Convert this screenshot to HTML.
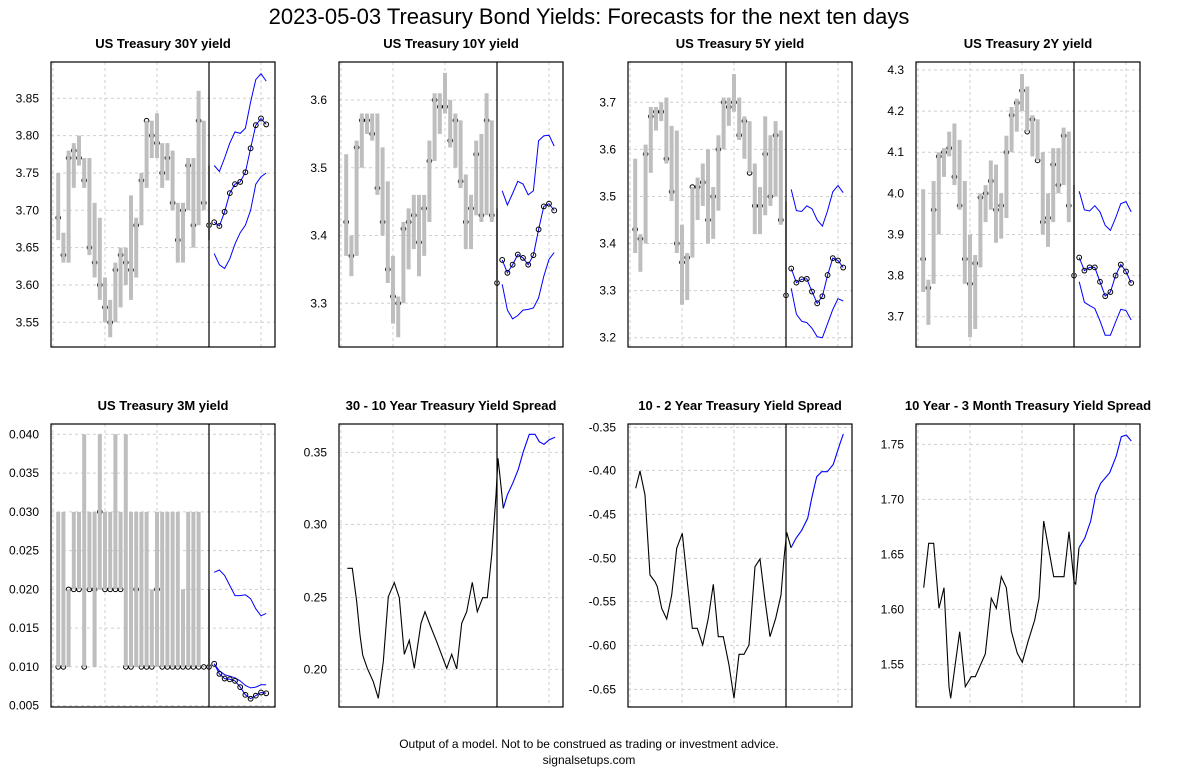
<!DOCTYPE html>
<html><head><meta charset="utf-8"><style>
html,body{margin:0;padding:0;background:#fff;}
svg{display:block;font-family:"Liberation Sans",Arial,sans-serif;}
</style></head><body>
<svg id="s" width="1178" height="772" viewBox="0 0 1178 772" xmlns="http://www.w3.org/2000/svg">
<rect width="1178" height="772" fill="#fff"/>
<text x="589" y="24" text-anchor="middle" font-size="22">2023-05-03 Treasury Bond Yields: Forecasts for the next ten days</text>
<text x="589" y="748" text-anchor="middle" font-size="12">Output of a model. Not to be construed as trading or investment advice.</text>
<text x="589" y="764" text-anchor="middle" font-size="12">signalsetups.com</text>
</svg>
<script>
var S=document.getElementById('s'),NS='http://www.w3.org/2000/svg';
function el(t,a,txt){var e=document.createElementNS(NS,t);for(var k in a)e.setAttribute(k,a[k]);if(txt!=null)e.textContent=txt;S.appendChild(e);return e;}
var lefts=[51,339,628,916];
function frame(L,T,B,title,ticks,Y,dec){
  el('text',{x:L+112,y:T-14,'text-anchor':'middle','font-size':13,'font-weight':'bold'},title);
  for(var k=0;k<5;k++){var gx=L+2+52*k;el('line',{x1:gx,y1:T,x2:gx,y2:B,stroke:'#cfcfcf','stroke-dasharray':'3,3'});}
  ticks.forEach(function(v){var y=Y(v);el('line',{x1:L,y1:y,x2:L+224,y2:y,stroke:'#cfcfcf','stroke-dasharray':'3,3'});
    el('text',{x:L-12,y:y+4,'text-anchor':'end','font-size':12},v.toFixed(dec));});
}
function finish(L,T,B){
  el('line',{x1:L+158,y1:T,x2:L+158,y2:B,stroke:'#000','stroke-width':1.2});
  el('rect',{x:L,y:T,width:224,height:B-T,fill:'none',stroke:'#000','stroke-width':1.2});
}
function lin(v1,p1,v2,p2){return function(v){return p1+(v-v1)*(p2-p1)/(v2-v1);};}
function X(L,i){return L+2+5.2*i;}
function pl(pts,c,w){el('polyline',{points:pts.map(function(p){return p[0].toFixed(1)+','+p[1].toFixed(1)}).join(' '),fill:'none',stroke:c,'stroke-width':w||1});}
function yieldPanel(p){
  var L=lefts[p.c],T=p.r?424:62,B=p.r?707:347,Y=lin(p.a[0],p.a[1],p.b[0],p.b[1]);
  frame(L,T,B,p.title,p.ticks,Y,p.dec);
  p.h.forEach(function(d,j){var x=X(L,j+1);
    el('circle',{cx:x,cy:Y(d[2]),r:2.3,fill:'none',stroke:'#000','stroke-width':1});
    var w=j==29?2:4;
    el('line',{x1:x,y1:Y(d[0]),x2:x,y2:Y(d[1])+0.01,stroke:'#bebebe','stroke-width':w});
  });
  var m=function(a){return a.map(function(v,k){return [X(L,31+k),Y(v)];});};
  pl(m(p.u),'#0000ff');pl(m(p.lo),'#0000ff');var mm=m(p.m);pl(mm,'#0000ff');
  mm.forEach(function(q){el('circle',{cx:q[0],cy:q[1],r:2.4,fill:'none',stroke:'#000','stroke-width':1});});
  finish(L,T,B);
}
yieldPanel({c:0,r:0,title:'US Treasury 30Y yield',a:[3.85,98.3],b:[3.55,322.3],ticks:[3.55,3.6,3.65,3.7,3.75,3.8,3.85],dec:2,
h:[[3.75,3.66,3.69],[3.67,3.63,3.64],[3.78,3.63,3.77],[3.79,3.73,3.78],[3.80,3.76,3.77],[3.77,3.73,3.74],[3.77,3.64,3.65],[3.71,3.61,3.63],[3.69,3.58,3.60],[3.61,3.55,3.57],[3.58,3.53,3.55],[3.63,3.55,3.62],[3.65,3.57,3.64],[3.65,3.60,3.63],[3.72,3.58,3.62],[3.69,3.61,3.68],[3.75,3.68,3.74],[3.82,3.73,3.82],[3.82,3.77,3.80],[3.83,3.77,3.79],[3.79,3.73,3.75],[3.79,3.74,3.77],[3.78,3.70,3.71],[3.71,3.63,3.66],[3.71,3.63,3.70],[3.77,3.70,3.76],[3.77,3.65,3.68],[3.86,3.68,3.82],[3.82,3.70,3.71],[3.76,3.66,3.68]],
m:[3.684,3.679,3.698,3.723,3.735,3.738,3.751,3.783,3.814,3.823,3.815],
u:[3.76,3.752,3.77,3.79,3.805,3.803,3.81,3.845,3.875,3.883,3.873],
lo:[3.642,3.627,3.622,3.635,3.655,3.67,3.68,3.70,3.735,3.745,3.75]});
yieldPanel({c:1,r:0,title:'US Treasury 10Y yield',a:[3.6,100],b:[3.3,303.3],ticks:[3.3,3.4,3.5,3.6],dec:1,
h:[[3.52,3.37,3.42],[3.40,3.34,3.37],[3.54,3.37,3.53],[3.58,3.50,3.57],[3.58,3.55,3.57],[3.58,3.54,3.55],[3.58,3.46,3.47],[3.53,3.40,3.42],[3.48,3.33,3.35],[3.37,3.27,3.31],[3.31,3.25,3.30],[3.42,3.30,3.41],[3.44,3.35,3.42],[3.46,3.38,3.43],[3.46,3.34,3.39],[3.46,3.37,3.44],[3.54,3.42,3.51],[3.61,3.51,3.60],[3.61,3.55,3.59],[3.64,3.58,3.59],[3.60,3.53,3.54],[3.58,3.50,3.57],[3.57,3.47,3.48],[3.49,3.38,3.42],[3.46,3.38,3.44],[3.54,3.43,3.52],[3.55,3.42,3.43],[3.61,3.43,3.57],[3.57,3.42,3.43],[3.44,3.33,3.33]],
m:[3.364,3.345,3.357,3.372,3.367,3.357,3.371,3.409,3.443,3.447,3.437],
u:[3.466,3.445,3.462,3.48,3.476,3.46,3.466,3.54,3.547,3.548,3.532],
lo:[3.328,3.29,3.277,3.282,3.29,3.291,3.293,3.308,3.34,3.365,3.375]});
yieldPanel({c:2,r:0,title:'US Treasury 5Y yield',a:[3.7,102.3],b:[3.2,337.7],ticks:[3.2,3.3,3.4,3.5,3.6,3.7],dec:1,
h:[[3.58,3.38,3.43],[3.42,3.34,3.41],[3.61,3.40,3.59],[3.69,3.55,3.67],[3.69,3.64,3.68],[3.70,3.66,3.68],[3.71,3.57,3.58],[3.65,3.49,3.51],[3.64,3.38,3.40],[3.44,3.27,3.36],[3.38,3.28,3.37],[3.52,3.37,3.52],[3.54,3.45,3.52],[3.57,3.48,3.53],[3.60,3.40,3.45],[3.52,3.41,3.50],[3.63,3.47,3.60],[3.71,3.60,3.70],[3.71,3.65,3.69],[3.76,3.68,3.70],[3.71,3.62,3.63],[3.67,3.58,3.66],[3.66,3.55,3.55],[3.57,3.42,3.48],[3.52,3.42,3.48],[3.67,3.46,3.59],[3.63,3.48,3.50],[3.66,3.50,3.63],[3.64,3.44,3.45],[3.49,3.29,3.29]],
m:[3.347,3.317,3.324,3.325,3.298,3.273,3.288,3.333,3.369,3.364,3.349],
u:[3.515,3.47,3.468,3.48,3.474,3.45,3.437,3.47,3.51,3.523,3.508],
lo:[3.305,3.25,3.235,3.232,3.22,3.202,3.2,3.23,3.26,3.283,3.278]});
yieldPanel({c:3,r:0,title:'US Treasury 2Y yield',a:[4.3,70],b:[3.7,316.7],ticks:[3.7,3.8,3.9,4.0,4.1,4.2,4.3],dec:1,
h:[[4.01,3.76,3.84],[3.79,3.68,3.77],[4.03,3.78,3.96],[4.10,3.90,4.09],[4.11,4.04,4.10],[4.15,4.09,4.11],[4.17,4.02,4.04],[4.13,3.96,3.97],[4.03,3.78,3.84],[3.90,3.65,3.78],[3.85,3.67,3.83],[4.00,3.82,3.99],[4.02,3.93,4.00],[4.08,3.96,4.03],[4.07,3.88,3.96],[4.00,3.89,3.97],[4.14,3.94,4.10],[4.21,4.10,4.19],[4.23,4.15,4.22],[4.29,4.20,4.25],[4.26,4.15,4.15],[4.19,4.09,4.18],[4.18,4.08,4.08],[4.10,3.90,3.93],[4.00,3.87,3.94],[4.11,3.93,4.07],[4.11,4.00,4.02],[4.16,4.02,4.14],[4.15,3.93,3.97],[4.02,3.80,3.80]],
m:[3.844,3.812,3.82,3.82,3.785,3.75,3.76,3.80,3.827,3.81,3.782],
u:[4.005,3.96,3.957,3.97,3.955,3.922,3.91,3.94,3.975,3.98,3.955],
lo:[3.785,3.735,3.727,3.72,3.69,3.655,3.655,3.687,3.718,3.715,3.692]});
yieldPanel({c:0,r:1,title:'US Treasury 3M yield',a:[0.040,434.3],b:[0.005,705.7],ticks:[0.005,0.01,0.015,0.02,0.025,0.03,0.035,0.04],dec:3,
h:[[.03,.01,.01],[.03,.01,.01],[.02,.01,.02],[.03,.02,.02],[.03,.02,.02],[.04,.01,.01],[.03,.02,.02],[.03,.01,.02],[.04,.02,.03],[.03,.02,.02],[.03,.02,.02],[.04,.02,.02],[.03,.02,.02],[.04,.01,.01],[.03,.01,.01],[.03,.01,.02],[.03,.01,.01],[.03,.01,.01],[.02,.01,.01],[.03,.01,.02],[.03,.01,.01],[.03,.01,.01],[.03,.01,.01],[.03,.01,.01],[.02,.01,.01],[.03,.01,.01],[.03,.01,.01],[.03,.01,.01],[.0101,.01,.01],[.02,.01,.01]],
m:[.0104,.0091,.0085,.0084,.0082,.0074,.0064,.0059,.0063,.0067,.0066],
u:[.0222,.0225,.0218,.0205,.0192,.0192,.0193,.0188,.0175,.0166,.0169],
lo:[.0104,.0095,.0090,.0088,.0086,.0082,.0076,.0073,.0074,.0077,.0077]});
function spread(c,title,ox,tk,dec,blk,blu){
  var L=lefts[c],T=424,B=707;var Y=function(v){return 415+(tk[0][1]+(v-tk[0][0])*(tk[1][1]-tk[0][1])/(tk[1][0]-tk[0][0]))/3;};
  frame(L,T,B,title,tk.map(function(t){return t[0];}),function(v){for(var i=0;i<tk.length;i++)if(Math.abs(tk[i][0]-v)<1e-9)return 415+tk[i][1]/3;},dec);
  var f=function(a){return a.map(function(q){return [ox+q[0]/3,415+q[1]/3];});};
  pl(f(blk),'#000',1.1);pl(f(blu),'#0000ff',1.1);finish(L,T,B);
}
spread(1,'30 - 10 Year Treasury Yield Spread',290,[[0.20,763],[0.25,548],[0.30,328],[0.35,112]],2,
[[172,460],[187,460],[200,560],[210,660],[218,720],[232,760],[250,800],[265,850],[280,740],[295,545],[313,503],[328,548],[343,718],[358,676],[373,760],[393,625],[405,590],[420,630],[440,680],[470,760],[485,718],[500,762],[515,625],[530,590],[547,502],[562,590],[578,548],[592,548],[605,420],[618,240],[624,130],[630,185],[640,280]],
[[640,280],[652,240],[668,205],[685,163],[700,110],[718,58],[735,58],[748,80],[762,88],[778,74],[795,67]]);
spread(2,'10 - 2 Year Treasury Yield Spread',580,[[-0.65,823],[-0.60,691],[-0.55,560],[-0.50,430],[-0.45,298],[-0.40,166],[-0.35,37]],2,
[[167,220],[180,168],[195,240],[210,480],[225,500],[232,515],[245,580],[260,612],[275,540],[290,400],[307,355],[322,500],[337,640],[352,640],[368,690],[385,610],[400,508],[415,665],[430,665],[447,750],[462,850],[477,718],[492,718],[507,690],[525,455],[540,432],[555,555],[570,665],[587,610],[603,540],[612,430],[620,352],[633,398]],
[[633,398],[648,370],[665,346],[683,310],[695,250],[710,185],[725,170],[742,170],[760,148],[778,92],[790,57]]);
spread(3,'10 Year - 3 Month Treasury Yield Spread',868,[[1.55,748],[1.60,583],[1.65,418],[1.70,253],[1.75,88]],2,
[[167,518],[182,385],[197,385],[213,580],[228,518],[243,815],[248,850],[260,760],[275,650],[292,815],[310,785],[322,785],[352,717],[370,550],[385,580],[400,485],[415,518],[430,648],[448,715],[463,742],[480,680],[500,615],[513,550],[527,318],[540,390],[557,485],[572,485],[588,485],[603,350],[618,500],[623,507],[633,398]],
[[633,398],[650,370],[668,318],[683,240],[698,205],[725,173],[745,123],[760,65],[775,60],[790,78]]);
</script>
</body></html>
